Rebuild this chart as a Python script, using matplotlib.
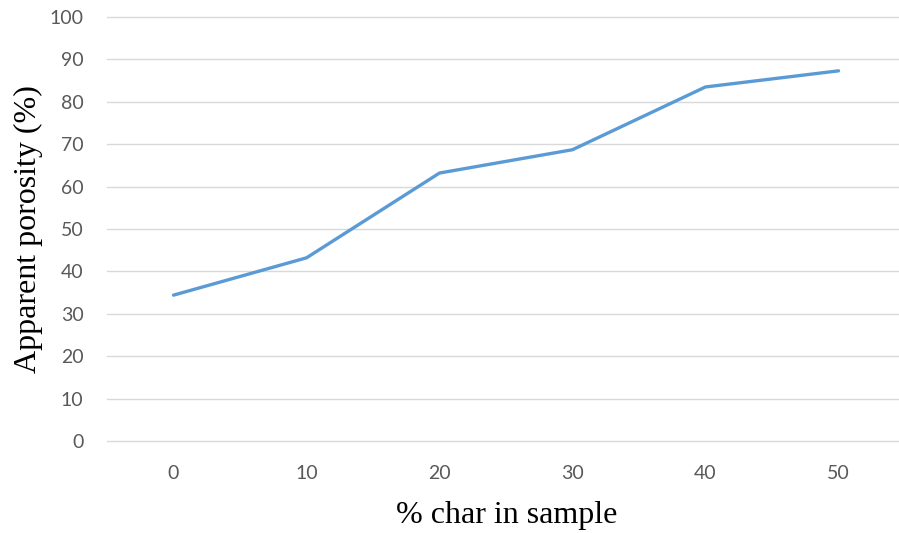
import numpy as np
import matplotlib.pyplot as plt

char_pct = ["0", "10", "20", "30", "40", "50"]
porosity = [34.4, 43.2, 63.2, 68.7, 83.5, 87.3]

fig = plt.figure(figsize=(8.99, 5.33), dpi=100)
ax = fig.add_axes([107/899, 92/533, 798/899, 424/533])

x = np.arange(len(char_pct))
ax.plot(x, porosity, color='#5b9bd5', linewidth=2.4, solid_capstyle='round')

ax.set_xlim(-0.5, len(char_pct) - 0.5)
ax.set_ylim(0, 100)
ax.set_yticks(np.arange(0, 101, 10))
ax.set_xticks(x)
ax.set_xticklabels(char_pct)
ax.grid(axis='y', color='#d9d9d9', linewidth=1.0)
for g in ax.yaxis.get_gridlines():
  g.set_clip_on(False)
ax.set_axisbelow(True)
for s in ax.spines.values():
  s.set_visible(False)
ax.tick_params(length=0, labelsize=14, labelcolor='#595959')
ax.tick_params(axis='y', pad=17)
ax.tick_params(axis='x', pad=17)
for lbl in ax.get_xticklabels() + ax.get_yticklabels():
  lbl.set_family('Lato')

fig.text(507/899, 1 - 515/533, '% char in sample', family='Liberation Serif',
         fontsize=23, ha='center', va='center')
fig.text(28/899, 1 - 229/533, 'Apparent porosity (%)', family='Liberation Serif',
         fontsize=23, ha='center', va='center', rotation=90)

fig.savefig('out.png', dpi=100)
